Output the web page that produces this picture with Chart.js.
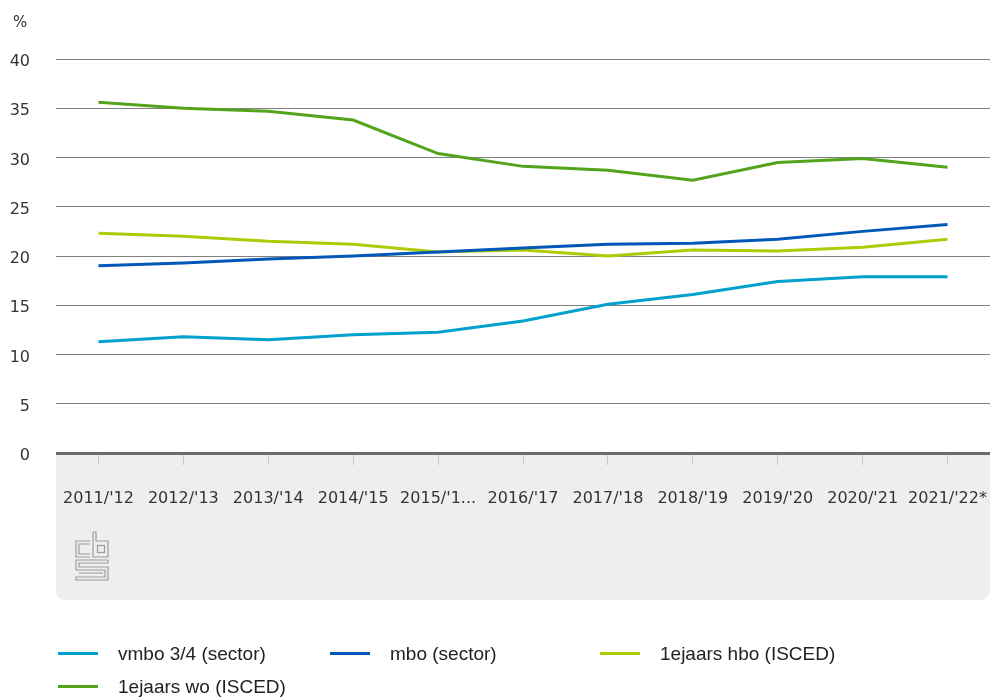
<!DOCTYPE html>
<html><head><meta charset="utf-8">
<script src="https://cdn.jsdelivr.net/npm/chart.js@4"></script>
<style>
html,body{margin:0;padding:0;background:#fff;}
#wrap{position:relative;width:990px;height:697px;overflow:hidden;}
#c{position:absolute;left:0;top:0;}
#unit{position:absolute;left:13px;top:13px;font:15px "DejaVu Sans";color:#333;}
#legend{position:absolute;left:58px;top:637px;display:grid;grid-template-columns:272px 270px 270px;}
.item{display:flex;align-items:center;height:33px;font:19px "Liberation Sans Narrow","Liberation Sans";color:#222;white-space:nowrap;}
.swatch{width:40px;height:3px;margin-right:20px;flex:none;}
</style></head>
<body>
<div id="wrap">
<canvas id="c" width="990" height="697"></canvas>
<div id="unit">%</div>
<div id="legend"></div>
</div>
<script>
const categories = ["2011/'12","2012/'13","2013/'14","2014/'15","2015/'16","2016/'17","2017/'18","2018/'19","2019/'20","2020/'21","2021/'22*"];
const tickLabels = ["2011/'12","2012/'13","2013/'14","2014/'15","2015/'1...","2016/'17","2017/'18","2018/'19","2019/'20","2020/'21","2021/'22*"];
const seriesNames = ["vmbo 3/4 (sector)","mbo (sector)","1ejaars hbo (ISCED)","1ejaars wo (ISCED)"];
const vmbo = [11.3,11.8,11.5,12.0,12.25,13.4,15.1,16.1,17.4,17.9,17.9];
const mbo  = [19.0,19.3,19.7,20.0,20.4,20.8,21.2,21.3,21.7,22.5,23.2];
const hbo  = [22.3,22.0,21.5,21.2,20.4,20.6,20.0,20.6,20.5,20.9,21.7];
const wo   = [35.6,35.0,34.7,33.8,30.4,29.1,28.7,27.7,29.5,29.9,29.0];
const yMin = 0, yMax = 40, yStep = 5;

const colors = ['#00a1cd','#0058b8','#afcb05','#53a31d'];
const values = [vmbo, mbo, hbo, wo];

const panelPlugin = {
  id:'panel',
  beforeDraw(chart){
    const {ctx, chartArea:a} = chart;
    ctx.save();
    ctx.fillStyle = '#eeeeee';
    ctx.beginPath();
    ctx.roundRect(a.left, a.bottom+1, a.right-a.left, 600-(a.bottom+1), [0,0,9,9]);
    ctx.fill();
    // CBS logo (decorative)
    const ox = 76, oy = 532;
    ctx.strokeStyle = '#9c9c9c';
    ctx.lineWidth = 1.2;
    const P = (pts)=>{ctx.beginPath();ctx.moveTo(ox+pts[0][0],oy+pts[0][1]);for(let i=1;i<pts.length;i++)ctx.lineTo(ox+pts[i][0],oy+pts[i][1]);ctx.stroke();};
    P([[14,9],[0,9],[0,25],[14,25]]);
    P([[14,12],[3,12],[3,22],[14,22]]);
    P([[17,0],[17,25],[32,25],[32,9],[20,9],[20,0],[17,0]]);
    ctx.strokeRect(ox+21.5,oy+13.5,7,7);
    P([[32,28],[0,28],[0,38],[29,38],[29,45],[0,45],[0,48],[32,48],[32,35],[3,35],[3,31],[32,31],[32,28]]);
    P([[3,41],[26,41],[26,42]]);
    ctx.restore();
  }
};

const chart = new Chart(document.getElementById('c'), {
  type:'line',
  data:{
    labels: categories,
    datasets: seriesNames.map((n,i)=>({
      label:n, data:values[i], borderColor:colors[i], backgroundColor:colors[i],
      borderWidth:3, pointRadius:0, tension:0, fill:false
    }))
  },
  options:{
    responsive:false, animation:false,
    layout:{padding:{top:59,left:0,right:0,bottom:0}},
    plugins:{legend:{display:false}, tooltip:{enabled:false}, title:{display:false}},
    scales:{
      x:{
        offset:true,
        afterFit(s){ s.height = 697-453; s.paddingLeft = 0; s.paddingRight = 0; },
        border:{display:false},
        grid:{drawOnChartArea:false, drawTicks:true, tickLength:12, color:'#c8c8c8', offset:false, lineWidth:1},
        ticks:{padding:24, autoSkip:false, maxRotation:0, minRotation:0, color:'#333',
          font:{family:'DejaVu Sans', size:16},
          callback:(v,i)=>tickLabels[i]}
      },
      y:{
        min:yMin, max:yMax,
        afterFit(s){ s.width = 56; },
        border:{display:false},
        grid:{drawTicks:false,
          color:c=>c.tick && c.tick.value===0 ? '#6b6b6b' : '#808080',
          lineWidth:c=>c.tick && c.tick.value===0 ? 3 : 1},
        ticks:{stepSize:yStep, padding:26, labelOffset:3, color:'#333', font:{family:'DejaVu Sans', size:16}}
      }
    }
  },
  plugins:[panelPlugin]
});

const lg = document.getElementById('legend');
chart.data.datasets.forEach(d=>{
  const it = document.createElement('div'); it.className='item';
  const sw = document.createElement('span'); sw.className='swatch'; sw.style.background=d.borderColor;
  const tx = document.createElement('span'); tx.textContent=d.label;
  it.appendChild(sw); it.appendChild(tx); lg.appendChild(it);
});
</script>
</body></html>
